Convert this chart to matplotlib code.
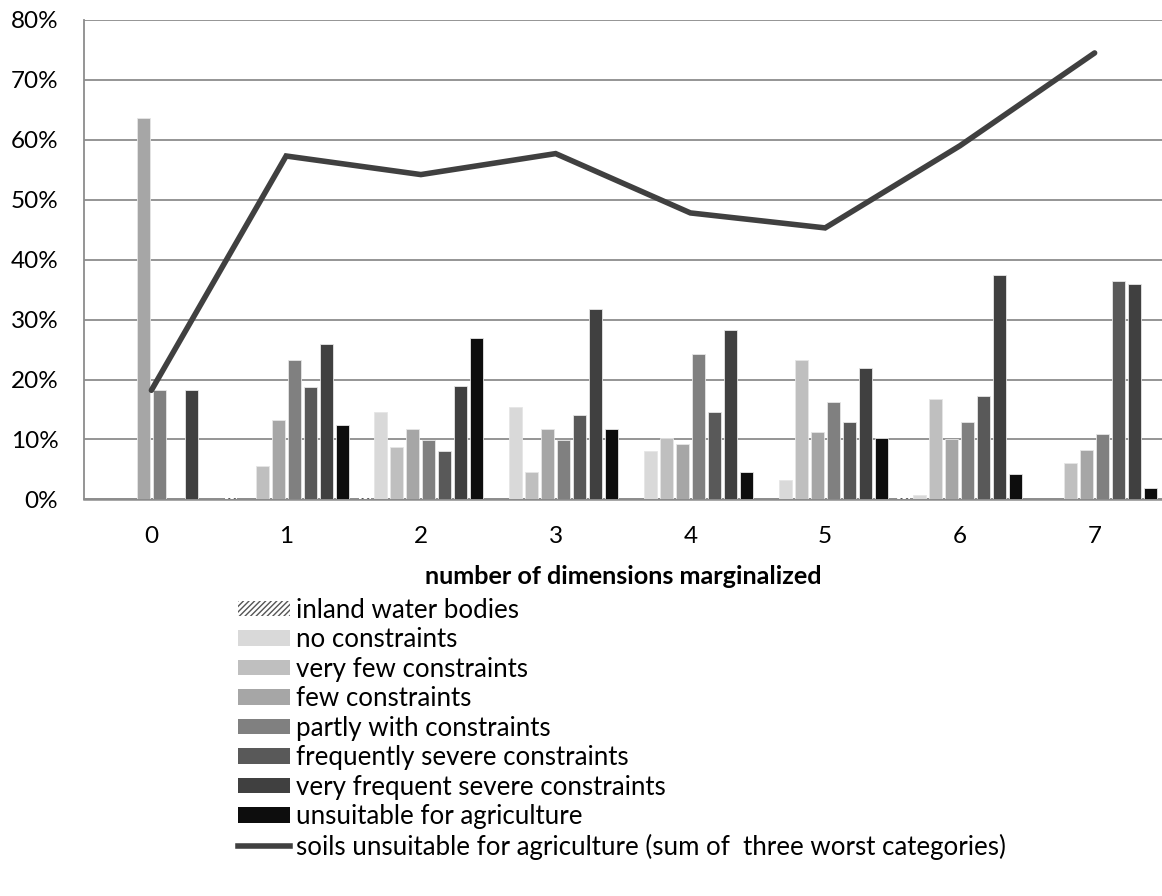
import numpy as np
import matplotlib
matplotlib.use('Agg')
import matplotlib.pyplot as plt
from matplotlib.lines import Line2D
from matplotlib.patches import Patch

plt.rcParams['font.family'] = ['Lato', 'DejaVu Sans']
plt.rcParams['hatch.linewidth'] = 1.0

# data (percent of area)
dims = ['0', '1', '2', '3', '4', '5', '6', '7']
series_names = [
    'inland water bodies',
    'no constraints',
    'very few constraints',
    'few constraints',
    'partly with constraints',
    'frequently severe constraints',
    'very frequent severe constraints',
    'unsuitable for agriculture',
]
inland_water = [0.0, 0.3, 0.3, 0.0, 0.0, 0.1, 0.2, 0.0]
no_constr = [0.0, 0.0, 14.6, 15.4, 8.1, 3.2, 0.7, 0.0]
very_few = [0.0, 5.6, 8.8, 4.6, 10.3, 23.2, 16.7, 6.1]
few = [63.6, 13.2, 11.7, 11.7, 9.2, 11.3, 10.0, 8.2]
partly = [18.2, 23.2, 9.9, 9.9, 24.2, 16.3, 12.9, 10.9]
freq_severe = [0.0, 18.8, 8.0, 14.0, 14.6, 12.9, 17.2, 36.4]
very_freq_severe = [18.2, 25.9, 18.9, 31.7, 28.3, 21.9, 37.4, 35.9]
unsuitable = [0.0, 12.4, 27.0, 11.7, 4.6, 10.2, 4.2, 1.9]
worst_three = [18.2, 57.3, 54.2, 57.7, 47.8, 45.3, 59.0, 74.5]
line_name = 'soils unsuitable for agriculture (sum of  three worst categories)'

all_series = [inland_water, no_constr, very_few, few, partly,
              freq_severe, very_freq_severe, unsuitable]
fills = ['white', '#D9D9D9', '#BFBFBF', '#A6A6A6', '#808080',
         '#595959', '#404040', '#0D0D0D']

fig = plt.figure(figsize=(11.62, 8.96), dpi=100)
ax = fig.add_axes([0.0723, 0.4427, 0.9277, 0.535])

x = np.arange(len(dims))
step = 0.1187
width = 0.095
for i, vals in enumerate(all_series):
    off = (i - 3.5) * step
    if i == 0:
        ax.bar(x + off, vals, width, facecolor='white', edgecolor='#555555',
               hatch='//////', linewidth=0, zorder=3)
    else:
        ax.bar(x + off, vals, width, color=fills[i], edgecolor='#E6E6E6',
               linewidth=0.6, zorder=3)

ax.plot(x, worst_three, color='#404040', lw=4, solid_capstyle='round',
        solid_joinstyle='miter', zorder=4)

ax.set_xlim(-0.5, 7.5)
ax.set_ylim(0, 80)
ax.set_yticks(np.arange(0, 81, 10))
ax.set_yticklabels([f'{v}%' for v in range(0, 81, 10)])
ax.set_xticks(x)
ax.set_xticklabels(dims)
ax.tick_params(length=0, labelsize=17.5, colors='black')
ax.tick_params(axis='y', pad=18.5)
ax.tick_params(axis='x', pad=19)
ax.grid(axis='y', color='#8C8C8C', lw=1.3, zorder=0)
ax.set_axisbelow(True)
for side in ['top', 'right']:
    ax.spines[side].set_visible(False)
ax.spines['left'].set_color('#8C8C8C')
ax.spines['left'].set_linewidth(1.3)
ax.spines['bottom'].set_color('#8C8C8C')
ax.spines['bottom'].set_linewidth(1.8)
ax.set_xlabel('number of dimensions marginalized', fontsize=18.2,
              fontweight='bold', labelpad=13)

handles = [Patch(facecolor='white', edgecolor='#555555', hatch='//////', linewidth=0)]
handles += [Patch(facecolor=c, edgecolor='none') for c in fills[1:]]
handles.append(Line2D([0], [0], color='#404040', lw=4))
fig.legend(handles, series_names + [line_name], loc='upper left',
           bbox_to_anchor=(0.205, 0.333), frameon=False, fontsize=18.6,
           handlelength=2.02, handleheight=0.54, handletextpad=0.2,
           labelspacing=0.175, borderpad=0, borderaxespad=0)

fig.savefig('out.png', dpi=100)
